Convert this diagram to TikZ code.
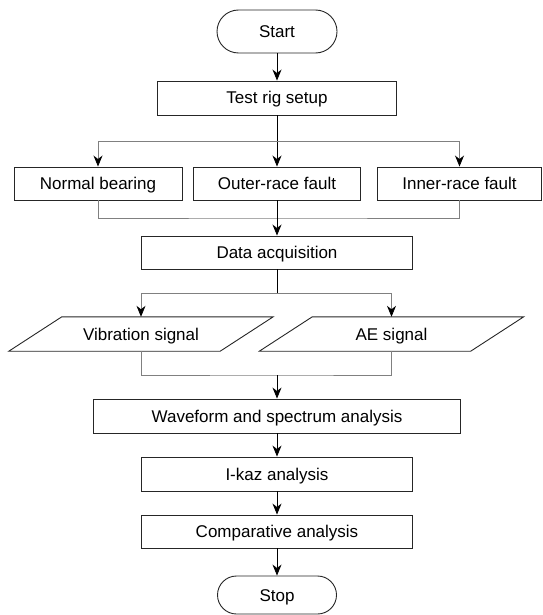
\documentclass[tikz,border=0pt]{standalone}
\usepackage{fontspec}
\setmainfont{Liberation Sans}
\usepackage{tikz}
\usetikzlibrary{arrows.meta, calc}

\begin{document}
\begin{tikzpicture}[x=1pt, y=-1pt, every node/.style={font=\fontsize{17}{20}\selectfont}]
			\tikzstyle{process}=[draw=black!85, line width=0.9pt, rectangle, minimum height=33pt, text height=12pt, text depth=0pt, inner sep=0pt]
			\tikzstyle{terminal}=[process, rounded corners=21.5pt]
			\tikzstyle{signal}=[inner sep=0pt, minimum width=211pt, minimum height=34pt, text height=12pt, text depth=0pt]
			\tikzstyle{flow}=[-{Stealth[length=11pt, width=9pt, inset=3.5pt, color=black]}, line width=0.8pt]
			\tikzstyle{branch}=[line width=0.8pt, draw=black!50]
			
			\useasboundingbox (0,0) rectangle (542,615);
			
			\node (start) at (277,31.5) [terminal, minimum width=120pt, minimum height=43pt] {Start};
			\node (setup) at (277,98) [process, minimum width=239pt, minimum height=34pt] {Test rig setup};
			
			\node (normal) at (98,183.5) [process, minimum width=168pt] {Normal bearing};
			\node (outer) at (277,183.5) [process, minimum width=167pt] {Outer-race fault};
			\node (inner) at (459.5,183.5) [process, minimum width=164pt] {Inner-race fault};
			
			\node (daq) at (277,252.5) [process, minimum width=271pt] {Data acquisition};
			
			\node (vib) at (141,334) [signal] {Vibration signal};
			\node (ae) at (391.5,334) [signal] {AE signal};
			%% slanted outline of the two signals
			\foreach \s in {vib, ae}
			\draw [draw=black!85, line width=0.9pt] ([xshift=26.5pt]\s.north west) -- ([xshift=26.5pt]\s.north east) -- ([xshift=-26.5pt]\s.south east) -- ([xshift=-26.5pt]\s.south west) -- cycle;
			
			\node (wave) at (277,416) [process, minimum width=367pt, minimum height=34pt] {Waveform and spectrum analysis};
			\node (ikaz) at (277,474) [process, minimum width=271pt, minimum height=34pt] {I-kaz analysis};
			\node (comp) at (277,531.5) [process, minimum width=271pt] {Comparative analysis};
			\node (stop) at (277,595) [terminal, minimum width=119pt, minimum height=38pt, rounded corners=19pt] {Stop};
			
			\coordinate (split1) at (277,141);
			\coordinate (merge1) at (277,218);
			\coordinate (split2) at (277,293);
			\coordinate (merge2) at (277,375);
			
			\draw [flow] (start) -- (setup);
			\draw [line width=0.8pt] (setup) -- (split1);
			\draw [branch, flow] (split1) -| (normal.north);
			\draw [flow] (split1) -- (outer);
			\draw [branch, flow] (split1) -| (inner.north);
			\draw [branch] (normal.south) |- (merge1) -| (inner.south);
			\draw [flow] (outer) -- (daq);
			
			\draw [line width=0.8pt] (daq) -- (split2);
			\draw [branch, flow] (split2) -| (vib.north);
			\draw [branch, flow] (split2) -| (ae.north);
			\draw [branch] (vib.south) |- (merge2) -| (ae.south);
			\draw [flow] (merge2) -- (wave);
			
			\draw [flow] (wave) -- (ikaz);
			\draw [flow] (ikaz) -- (comp);
			\draw [flow] (comp) -- (stop);
			\end{tikzpicture}
\end{document}
